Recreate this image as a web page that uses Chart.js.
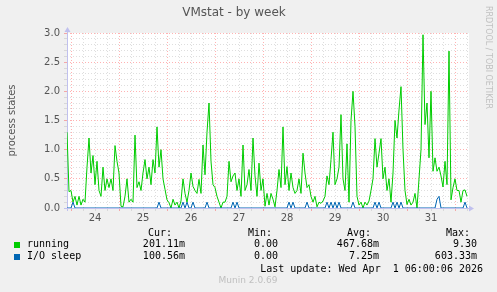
<!DOCTYPE html>
<html>
<head>
<meta charset="utf-8">
<script src="https://cdn.jsdelivr.net/npm/chart.js@4.4.1/dist/chart.umd.min.js"></script>
<style>
html, body { margin: 0; padding: 0; background: #F0F0F0; }
#wrap { width: 497px; height: 292px; }
</style>
</head>
<body>
<div id="wrap"><canvas id="chart_vmstat" width="497" height="292"></canvas></div>
<script>
// one sample per hour, hour 0 = Mar 24 00:00
const start_hour = -2;

const running = [
  1.3, 0.28,
  0.3, 0.1, 0.2, 0.05, 0.2, 0.05, 0.15, 0.1, 0.7, 1.2, 0.6, 0.9, 0.4, 0.8, 0.3, 0.2, 0.7, 0.3, 0.5, 0.35, 0.5, 0.3, 1.07, 0.8,
  0.6, 0.03, 0.02, 0.2, 0.5, 0.1, 0.15, 0.1, 1.25, 0.35, 0.45, 0.3, 0.6, 0.83, 0.5, 0.7, 0.4, 0.83, 0.6, 1.39, 0.7, 1.0, 0.5, 0.32,
  0.14, 0.09, 0.0, 0.15, 0.05, 0.1, 0.0, 0.12, 0.5, 0.25, 0.1, 0.3, 0.6, 0.37, 0.3, 0.25, 0.49, 0.25, 1.08, 0.57, 1.3, 1.8, 0.8, 0.4,
  0.35, 0.2, 0.1, 0.0, 0.1, 0.1, 0.2, 0.8, 0.45, 0.55, 0.6, 0.3, 0.5, 0.2, 1.08, 0.3, 0.4, 0.66, 0.3, 1.2, 0.55, 0.2, 0.77, 0.3,
  0.5, 0.03, 0.25, 0.05, 0.25, 0.15, 0.02, 0.3, 0.66, 0.35, 1.39, 0.4, 0.71, 0.3, 0.6, 0.35, 0.25, 0.3, 0.5, 0.25, 0.94, 0.6, 0.35, 0.4,
  0.2, 0.1, 0.2, 0.02, 0.1, 0.08, 0.12, 0.2, 0.55, 0.4, 0.83, 1.3, 0.4, 0.5, 0.7, 1.6, 0.5, 0.3, 1.1, 0.1, 1.5, 2.0, 1.4, 0.2,
  0.05, 0.1, 0.0, 0.1, 0.05, 0.12, 0.3, 0.5, 1.19, 0.7, 0.94, 1.19, 0.5, 0.7, 0.3, 0.5, 0.1, 0.6, 1.5, 1.2, 1.68, 2.08, 1.0, 0.3,
  0.06, 0.15, 0.05, 0.1, 0.25, 0.0, 0.5, 1.0, 2.97, 1.43, 1.8, 0.86, 2.0, 0.63, 0.86, 0.63, 0.7, 0.55, 0.36, 0.8, 0.4, 2.69, 0.14, 0.35,
  0.5, 0.3, 0.3, 0.1, 0.3, 0.31, 0.2
];

const io_sleep = [
  0, 0,
  0, 0.1, 0, 0, 0, 0, 0, 0, 0, 0, 0, 0, 0, 0, 0, 0, 0, 0, 0, 0, 0, 0, 0, 0,
  0, 0, 0, 0, 0, 0, 0, 0, 0, 0, 0, 0, 0, 0, 0, 0, 0, 0, 0, 0, 0.1, 0, 0, 0,
  0, 0, 0, 0, 0, 0, 0, 0, 0.1, 0, 0.1, 0, 0, 0.1, 0, 0, 0, 0, 0, 0, 0.1, 0, 0, 0,
  0, 0, 0, 0, 0, 0, 0, 0, 0, 0.1, 0, 0.1, 0, 0, 0, 0, 0, 0, 0, 0, 0, 0, 0, 0,
  0, 0, 0, 0, 0, 0, 0, 0, 0, 0, 0, 0, 0, 0.1, 0, 0.1, 0, 0, 0, 0, 0, 0, 0.1, 0,
  0, 0, 0, 0, 0, 0, 0, 0, 0.1, 0, 0.1, 0, 0.1, 0, 0.1, 0, 0, 0, 0, 0, 0, 0.1, 0, 0,
  0, 0, 0, 0, 0, 0, 0, 0, 0.1, 0, 0.1, 0, 0, 0, 0, 0, 0, 0.1, 0, 0.1, 0, 0.1, 0, 0,
  0, 0, 0, 0, 0, 0, 0, 0, 0, 0, 0, 0, 0, 0, 0, 0.15, 0.2, 0, 0, 0, 0, 0, 0, 0,
  0, 0, 0, 0, 0, 0.1, 0
];

const day_labels = ['24', '25', '26', '27', '28', '29', '30', '31'];
const y_labels   = ['0.0', '0.5', '1.0', '1.5', '2.0', '2.5', '3.0'];

const series_names  = ['running', 'I/O sleep'];
const series_colors = ['#00CC00', '#0066B3'];
const cur_values = ['201.11m', '100.56m'];
const min_values = ['0.00', '0.00'];
const avg_values = ['467.68m', '7.25m'];
const max_values = ['9.30', '603.33m'];

const MAJOR = 'rgba(255, 0, 0, 0.3)';
const MINOR = 'rgba(200, 200, 200, 0.6)';
const AXIS  = '#c0c0ee';
const TEXT  = '#555555';

function toPoints(vals) {
  return vals.map((v, i) => ({ x: start_hour + i, y: v }));
}

// axis lines with arrows, like rrdtool
const axisPlugin = {
  id: 'rrdAxis',
  beforeDatasetsDraw(chart) {
    const ctx = chart.ctx;
    const a = chart.chartArea;
    const y0 = Math.round(chart.scales.y.getPixelForValue(0)) + 0.5;
    const x0 = Math.round(a.left) + 0.5;
    ctx.save();
    ctx.strokeStyle = AXIS;
    ctx.fillStyle = AXIS;
    ctx.lineWidth = 1;
    ctx.beginPath();
    ctx.moveTo(a.left - 3, y0); ctx.lineTo(a.right + 1, y0);
    ctx.moveTo(x0, a.bottom + 3); ctx.lineTo(x0, a.top - 1);
    ctx.stroke();
    ctx.beginPath();
    ctx.moveTo(a.right + 6, y0); ctx.lineTo(a.right + 1, y0 - 3); ctx.lineTo(a.right + 1, y0 + 3);
    ctx.closePath(); ctx.fill();
    ctx.beginPath();
    ctx.moveTo(x0, a.top - 6); ctx.lineTo(x0 - 3, a.top - 1); ctx.lineTo(x0 + 3, a.top - 1);
    ctx.closePath(); ctx.fill();
    ctx.restore();
  }
};

// legend table, watermark and footer
const legendPlugin = {
  id: 'muninLegend',
  afterDraw(chart) {
    const ctx = chart.ctx;
    ctx.save();
    ctx.font = '10px "DejaVu Sans Mono"';
    ctx.textBaseline = 'middle';
    ctx.fillStyle = '#000000';
    ctx.textAlign = 'right';
    ctx.fillText('Cur:', 172, 233);
    ctx.fillText('Min:', 272, 233);
    ctx.fillText('Avg:', 371, 233);
    ctx.fillText('Max:', 470, 233);
    for (let i = 0; i < series_names.length; i++) {
      const y = 244 + i * 12;
      ctx.fillStyle = series_colors[i];
      ctx.fillRect(14, y - 2, 6, 6);
      ctx.fillStyle = '#000000';
      ctx.textAlign = 'left';
      ctx.fillText(series_names[i], 27, y);
      ctx.textAlign = 'right';
      ctx.fillText(cur_values[i], 185, y);
      ctx.fillText(min_values[i], 278, y);
      ctx.fillText(avg_values[i], 379, y);
      ctx.fillText(max_values[i], 477, y);
    }
    ctx.fillText('Last update: Wed Apr  1 06:00:06 2026', 483, 269);
    ctx.textAlign = 'center';
    ctx.fillStyle = '#c0c0c0';
    ctx.font = '9px "DejaVu Sans"';
    ctx.fillText('Munin 2.0.69', 248, 281);
    ctx.font = '8px "DejaVu Sans"';
    ctx.translate(488, 6);
    ctx.rotate(Math.PI / 2);
    ctx.textAlign = 'left';
    ctx.fillText('RRDTOOL / TOBI OETIKER', 0, 0);
    ctx.restore();
  }
};

// white plot background
const backPlugin = {
  id: 'plotBack',
  beforeDraw(chart) {
    const ctx = chart.ctx;
    const a = chart.chartArea;
    ctx.save();
    ctx.fillStyle = '#F0F0F0';
    ctx.fillRect(0, 0, chart.width, chart.height);
    ctx.fillStyle = '#FFFFFF';
    ctx.fillRect(a.left, a.top, a.right - a.left + 1, a.bottom - a.top);
    ctx.restore();
  }
};

const ctx_vmstat = document.getElementById('chart_vmstat');

const config = {
  type: 'line',
  data: {
    datasets: [{
      label: series_names[0],
      data: toPoints(running),
      borderColor: series_colors[0],
      borderWidth: 1,
      pointRadius: 0,
      tension: 0,
      order: 2
    },
    {
      label: series_names[1],
      data: toPoints(io_sleep),
      borderColor: series_colors[1],
      borderWidth: 1,
      pointRadius: 0,
      tension: 0,
      order: 1
    }]
  },
  options: {
    responsive: false,
    animation: false,
    devicePixelRatio: 1,
    layout: { padding: { left: 0, right: 29, top: 0, bottom: 0 } },
    plugins: {
      legend: { display: false },
      tooltip: { enabled: false },
      title: {
        display: true,
        text: 'VMstat - by week',
        color: TEXT,
        font: { family: 'DejaVu Sans', size: 12, weight: 'normal' },
        padding: { top: 6, bottom: 12.6 }
      }
    },
    scales: {
      x: {
        type: 'linear',
        min: start_hour,
        max: 198.5,
        afterBuildTicks: axis => {
          const t = [];
          for (let h = 0; h <= axis.max; h += 6) t.push({ value: h });
          axis.ticks = t;
        },
        afterFit: axis => { axis.height = 84; },
        grid: {
          color: c => (c.tick && c.tick.value % 24 === 0) ? MAJOR : MINOR,
          tickColor: c => (c.tick && c.tick.value % 24 === 0) ? MAJOR : MINOR,
          tickLength: 3
        },
        border: { display: false, dash: [1, 2] },
        ticks: {
          autoSkip: false,
          maxRotation: 0,
          padding: 1,
          color: TEXT,
          font: { family: 'DejaVu Sans', size: 10 },
          callback: v => (v % 24 === 12) ? day_labels[(v - 12) / 24] : ''
        }
      },
      y: {
        min: 0,
        max: 3,
        afterBuildTicks: axis => {
          const t = [];
          for (let k = 0; k <= 30; k++) t.push({ value: k / 10 });
          axis.ticks = t;
        },
        afterFit: axis => { axis.width = 67; },
        grid: {
          color: c => (c.index % 5 === 0) ? MAJOR : MINOR,
          tickColor: c => (c.index % 5 === 0) ? MAJOR : MINOR,
          tickLength: 3
        },
        border: { display: false, dash: [1, 2] },
        ticks: {
          autoSkip: false,
          padding: 4,
          color: TEXT,
          font: { family: 'DejaVu Sans', size: 10 },
          callback: (v, i) => (i % 5 === 0) ? y_labels[i / 5] : ''
        },
        title: {
          display: true,
          text: 'process states',
          color: TEXT,
          font: { family: 'DejaVu Sans', size: 10 },
          padding: { top: 6, bottom: 0 }
        }
      }
    }
  },
  plugins: [backPlugin, axisPlugin, legendPlugin]
};

const chartVmstat = new Chart(ctx_vmstat, config);
</script>
</body>
</html>
